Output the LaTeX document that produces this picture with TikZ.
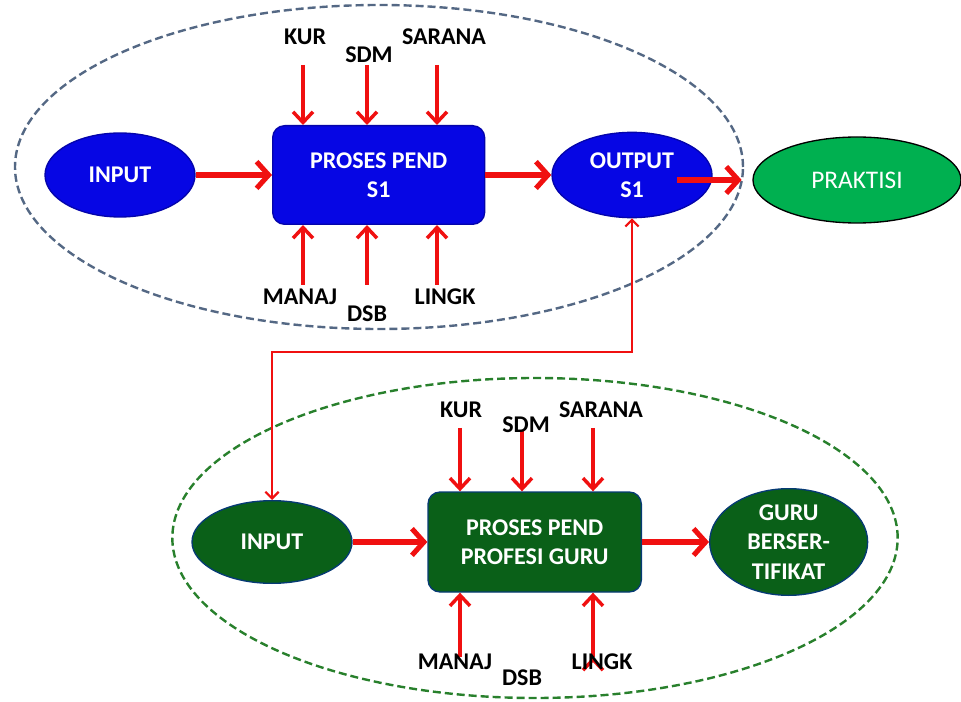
\documentclass[tikz,border=0pt]{standalone}
\usepackage{fontspec}
\setmainfont{Carlito}
\usetikzlibrary{shapes.geometric,arrows.meta,positioning}

\definecolor{procblue}{RGB}{6,6,228}
\definecolor{procgreen}{RGB}{10,96,24}
\definecolor{praktgreen}{RGB}{0,176,80}
\definecolor{arrowred}{RGB}{240,16,16}
\definecolor{ringblue}{RGB}{84,104,132}
\definecolor{ringgreen}{RGB}{40,128,44}

\tikzset{
  blob/.style={ellipse,inner sep=0pt,line width=1pt,text=white,align=center,
    font=\bfseries\fontsize{18}{22}\selectfont},
  box/.style={rectangle,rounded corners=9pt,inner sep=0pt,line width=1pt,text=white,
    align=center,font=\bfseries\fontsize{18}{22}\selectfont},
  blueblob/.style={blob,fill=procblue,draw=procblue!75!black},
  greenblob/.style={blob,fill=procgreen,draw=procgreen!60!blue},
  bluebox/.style={box,fill=procblue,draw=procblue!75!black,minimum width=159pt,minimum height=74pt},
  greenbox/.style={box,fill=procgreen,draw=procgreen!60!blue,minimum width=160pt,minimum height=75pt},
  prakt/.style={ellipse,inner sep=0pt,fill=praktgreen,draw=black,line width=1pt,text=white,
    font=\fontsize{19}{22}\selectfont,minimum width=156pt,minimum height=64.5pt},
  lbl/.style={font=\bfseries\fontsize{18}{22}\selectfont},
  flow/.style={draw=arrowred,line width=3.8pt,-{Straight Barb[length=9pt,width=20pt]}},
  feed/.style={draw=arrowred,line width=2.6pt,-{Straight Barb[length=8pt,width=15pt]}},
  link/.style={draw=arrowred,line width=1.6pt,
    {Straight Barb[length=5pt,width=10pt]}-{Straight Barb[length=5pt,width=10pt]}},
  ring/.style={line width=1.8pt,dash pattern=on 6pt off 3pt}
}

\begin{document}
\begin{tikzpicture}[x=0.75pt,y=-0.75pt,on grid]
\useasboundingbox (0,0) rectangle (961,702);
% dashed rings
\draw[ring,draw=ringblue] (379,167) ellipse [x radius=273pt,y radius=121.5pt];
\draw[ring,draw=ringgreen] (535,538) ellipse [x radius=272pt,y radius=120pt];

% S1 stage
\node[blueblob,minimum width=112.5pt,minimum height=63pt] (in1) at (120,175) {INPUT};
\node[bluebox] (proc1) [right=194pt of in1] {PROSES PEND\\S1};
\node[blueblob,minimum width=120pt,minimum height=64pt] (out1) [right=190pt of proc1] {OUTPUT\\S1};
\node[prakt] (prak) at (857,180) {PRAKTISI};

\coordinate (kur1in) at (303,65);
\coordinate (sdm1in) at (367,65);
\coordinate (sar1in) at (437,65);
\coordinate (man1in) at (303,285);
\coordinate (dsb1in) at (367,285);
\coordinate (lin1in) at (437,285);

% profesi stage
\node[greenblob,minimum width=120pt,minimum height=62pt] (in2) at (272,542) {INPUT};
\node[greenbox] (proc2) [right=197pt of in2] {PROSES PEND\\PROFESI GURU};
\node[greenblob,minimum width=118.5pt,minimum height=80pt] (guru) [right=190.5pt of proc2] {GURU\\BERSER-\\TIFIKAT};

\coordinate (kur2in) at (460,428);
\coordinate (sdm2in) at (522,430);
\coordinate (sar2in) at (593,428);
\coordinate (man2in) at (460,657);
\coordinate (lin2in) at (593,657);
\coordinate (turn) at (0,352);

\path[flow]
	(in1) edge (proc1)
	(proc1) edge (out1)
	(in2) edge (proc2)
	(proc2) edge (guru);
\draw[flow,shorten <=34pt,shorten >=8pt] (out1.center |- prak.west) -- (prak.west);

\path[feed]
	(kur1in) edge (kur1in |- proc1.north)
	(sdm1in) edge (sdm1in |- proc1.north)
	(sar1in) edge (sar1in |- proc1.north)
	(man1in) edge (man1in |- proc1.south)
	(dsb1in) edge (dsb1in |- proc1.south)
	(lin1in) edge (lin1in |- proc1.south)
	(kur2in) edge (kur2in |- proc2.north)
	(sdm2in) edge (sdm2in |- proc2.north)
	(sar2in) edge (sar2in |- proc2.north)
	(man2in) edge (man2in |- proc2.south)
	(lin2in) edge (lin2in |- proc2.south);

\draw[link] (out1.south) |- (turn -| in2.north) -- (in2.north);

% factor labels, on top of the arrows
\node[lbl] (kur1) at (305,37) {KUR};
\node[lbl] (sdm1) at (369,55) {SDM};
\node[lbl] (sar1) at (444,37) {SARANA};
\node[lbl] (man1) at (300,297) {MANAJ};
\node[lbl] (dsb1) at (367,314) {DSB};
\node[lbl] (lin1) at (445,297) {LINGK};

\node[lbl] (kur2) at (461,410) {KUR};
\node[lbl] (sdm2) at (526,425) {SDM};
\node[lbl] (sar2) at (601,410) {SARANA};
\node[lbl] (man2) at (455,662) {MANAJ};
\node[lbl] (dsb2) at (522,678) {DSB};
\node[lbl] (lin2) at (602,662) {LINGK};
\end{tikzpicture}
\end{document}
